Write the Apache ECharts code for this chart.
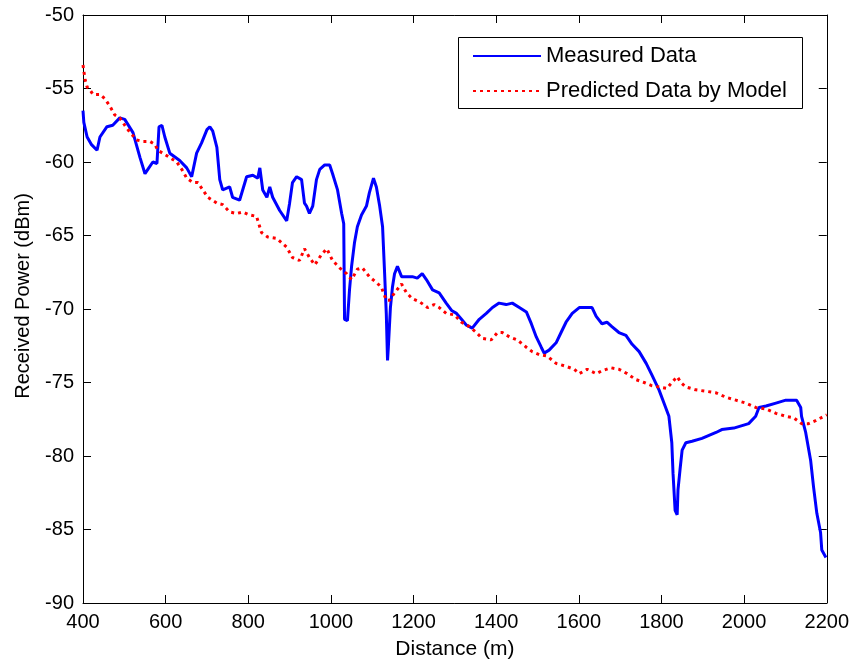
<!DOCTYPE html>
<html>
<head>
<meta charset="utf-8">
<script src="https://cdn.jsdelivr.net/npm/echarts@6/dist/echarts.min.js"></script>
<style>
html,body{margin:0;padding:0;background:#fff;}
#chart{width:852px;height:666px;}
</style>
</head>
<body>
<div id="chart"></div>
<script>
var xTicks = [400, 600, 800, 1000, 1200, 1400, 1600, 1800, 2000, 2200];
var yTicks = [-90, -85, -80, -75, -70, -65, -60, -55, -50];

var measuredDist = [400,402,410,420,434,441,458,472,489,501,521,538,550,557,569,579,584,591,598,610,634,651,663,675,687,700,707,714,724,731,738,755,762,779,796,811,823,828,835,845,852,859,876,893,900,907,917,929,936,941,948,956,965,973,985,997,1004,1016,1026,1031,1033,1040,1045,1050,1057,1064,1074,1086,1093,1103,1110,1118,1125,1130,1134,1137,1139,1144,1149,1154,1161,1171,1183,1197,1209,1221,1231,1246,1262,1279,1292,1304,1316,1328,1342,1359,1376,1391,1407,1424,1439,1456,1473,1485,1497,1509,1516,1528,1545,1557,1569,1584,1601,1632,1642,1656,1668,1680,1697,1714,1729,1746,1763,1777,1794,1806,1818,1825,1828,1833,1838,1840,1845,1850,1859,1874,1898,1915,1932,1946,1975,1987,2011,2028,2036,2053,2077,2101,2127,2137,2139,2149,2161,2168,2176,2185,2188,2198];
var measuredPower = [-56.5,-57.3,-58.3,-58.8,-59.2,-58.3,-57.6,-57.5,-57.0,-57.1,-58.0,-59.7,-60.8,-60.5,-60.0,-60.1,-57.6,-57.5,-58.3,-59.4,-59.9,-60.4,-61.0,-59.4,-58.7,-57.8,-57.6,-57.9,-59.0,-61.2,-61.9,-61.7,-62.4,-62.6,-61.0,-60.9,-61.1,-60.4,-61.9,-62.4,-61.7,-62.4,-63.3,-64.0,-62.8,-61.4,-61.0,-61.2,-62.8,-63.0,-63.5,-63.0,-61.2,-60.5,-60.2,-60.2,-60.8,-61.9,-63.5,-64.2,-70.7,-70.8,-68.7,-67.1,-65.5,-64.4,-63.6,-63.0,-62.1,-61.1,-61.7,-63.0,-64.4,-67.6,-70.3,-73.5,-72.6,-69.9,-68.5,-67.6,-67.1,-67.8,-67.8,-67.8,-67.9,-67.6,-68.0,-68.7,-68.9,-69.6,-70.1,-70.3,-70.7,-71.1,-71.3,-70.7,-70.3,-69.9,-69.6,-69.7,-69.6,-69.9,-70.2,-71.0,-71.9,-72.6,-73.0,-72.8,-72.3,-71.6,-70.9,-70.3,-69.9,-69.9,-70.5,-71.0,-70.9,-71.2,-71.6,-71.8,-72.4,-72.9,-73.7,-74.5,-75.5,-76.4,-77.3,-79.1,-81.2,-83.7,-84.0,-82.3,-80.9,-79.6,-79.1,-79.0,-78.8,-78.6,-78.4,-78.2,-78.1,-78.0,-77.8,-77.3,-76.7,-76.6,-76.4,-76.2,-76.2,-76.7,-77.3,-78.4,-80.3,-82.1,-83.9,-85.2,-86.4,-86.9];

var predictedDist = [400,405,410,417,424,441,453,465,477,489,501,514,530,545,562,574,581,593,610,627,639,651,666,678,690,702,724,738,755,772,787,803,820,832,847,869,893,907,924,936,948,961,977,990,1004,1021,1038,1050,1064,1076,1093,1110,1122,1134,1142,1154,1171,1183,1197,1214,1234,1250,1262,1279,1299,1316,1335,1352,1366,1388,1403,1415,1432,1451,1473,1487,1504,1523,1545,1569,1589,1601,1620,1642,1656,1678,1697,1717,1738,1758,1775,1794,1813,1825,1838,1847,1859,1883,1908,1932,1956,1980,2004,2028,2053,2077,2101,2120,2139,2156,2173,2193,2200];
var predictedPower = [-53.4,-54.4,-54.9,-55.1,-55.4,-55.4,-55.7,-56.2,-56.8,-57.0,-57.5,-58.0,-58.5,-58.6,-58.6,-58.8,-59.2,-59.4,-59.7,-60.0,-60.5,-61.1,-61.4,-61.4,-61.9,-62.4,-62.8,-62.9,-63.4,-63.5,-63.4,-63.6,-63.7,-64.8,-65.1,-65.2,-65.8,-66.5,-66.7,-65.9,-66.5,-67.0,-66.3,-65.9,-66.7,-67.2,-67.6,-68.0,-67.3,-67.2,-67.8,-68.2,-68.5,-69.4,-69.4,-68.9,-68.3,-68.9,-69.3,-69.5,-69.9,-69.7,-69.9,-70.3,-70.4,-70.9,-71.2,-71.6,-72.0,-72.1,-71.6,-71.6,-71.9,-72.1,-72.6,-72.9,-73.1,-73.2,-73.7,-73.9,-74.1,-74.4,-74.1,-74.4,-74.2,-74.0,-74.1,-74.4,-74.8,-75.0,-75.2,-75.3,-75.4,-75.0,-74.6,-75.0,-75.3,-75.5,-75.6,-75.7,-76.0,-76.2,-76.4,-76.7,-76.8,-77.1,-77.3,-77.4,-77.8,-77.8,-77.6,-77.3,-77.2];

function pairs(xs, ys) { return xs.map(function (x, i) { return [x, ys[i]]; }); }

var FONT = 'Liberation Sans, Arial, sans-serif';
var axisLine = { show: true, onZero: false, lineStyle: { color: '#000', width: 1 } };
var tick = { show: true, inside: true, length: 8, lineStyle: { color: '#000', width: 1 } };
var plain = function (v) { return String(v); };

var chart = echarts.init(document.getElementById('chart'), null, { renderer: 'canvas' });
chart.setOption({
  backgroundColor: '#ffffff',
  animation: false,
  grid: { left: 83, right: 24, top: 15, bottom: 63, containLabel: false },
  graphic: [{
    type: 'rect', left: 458, top: 37, z: 10,
    shape: { width: 344, height: 71 },
    style: { fill: '#fff', stroke: '#000', lineWidth: 1 }
  }],
  legend: {
    orient: 'vertical', left: 458, top: 37, z: 20,
    padding: [8, 10, 8, 14],
    itemWidth: 68, itemHeight: 20, itemGap: 13,
    itemStyle: { color: 'transparent', borderWidth: 0, opacity: 0 },
    textStyle: { fontFamily: FONT, fontSize: 22, color: '#000' },
    data: ['Measured Data', 'Predicted Data by Model']
  },
  xAxis: [{
    type: 'value', min: 400, max: 2200, interval: 200, position: 'bottom',
    name: 'Distance (m)', nameLocation: 'middle', nameGap: 36,
    nameTextStyle: { fontFamily: FONT, fontSize: 21, color: '#000' },
    axisLine: axisLine, axisTick: tick, splitLine: { show: false },
    axisLabel: { fontFamily: FONT, fontSize: 20, color: '#000', margin: 9, formatter: plain }
  }, {
    type: 'value', min: 400, max: 2200, interval: 200, position: 'top',
    axisLine: axisLine, axisTick: tick, splitLine: { show: false },
    axisLabel: { show: false }
  }],
  yAxis: [{
    type: 'value', min: -90, max: -50, interval: 5, position: 'left',
    name: 'Received Power (dBm)', nameLocation: 'middle', nameGap: 50, nameRotate: 90,
    nameTextStyle: { fontFamily: FONT, fontSize: 20, color: '#000', padding: [0, 0, 0, 26] },
    axisLine: axisLine, axisTick: tick, splitLine: { show: false },
    axisLabel: { fontFamily: FONT, fontSize: 20, color: '#000', margin: 9, formatter: plain }
  }, {
    type: 'value', min: -90, max: -50, interval: 5, position: 'right',
    axisLine: axisLine, axisTick: tick, splitLine: { show: false },
    axisLabel: { show: false }
  }],
  series: [{
    name: 'Measured Data', type: 'line', xAxisIndex: 0, yAxisIndex: 0,
    data: pairs(measuredDist, measuredPower),
    symbol: 'none', showSymbol: false, smooth: false,
    lineStyle: { color: '#0000ff', width: 3 },
    itemStyle: { color: '#0000ff' }
  }, {
    name: 'Predicted Data by Model', type: 'line', xAxisIndex: 0, yAxisIndex: 0,
    data: pairs(predictedDist, predictedPower),
    symbol: 'none', showSymbol: false, smooth: false,
    lineStyle: { color: '#ff0000', width: 3, type: [3, 4] },
    itemStyle: { color: '#ff0000' }
  }]
});
</script>
</body>
</html>
